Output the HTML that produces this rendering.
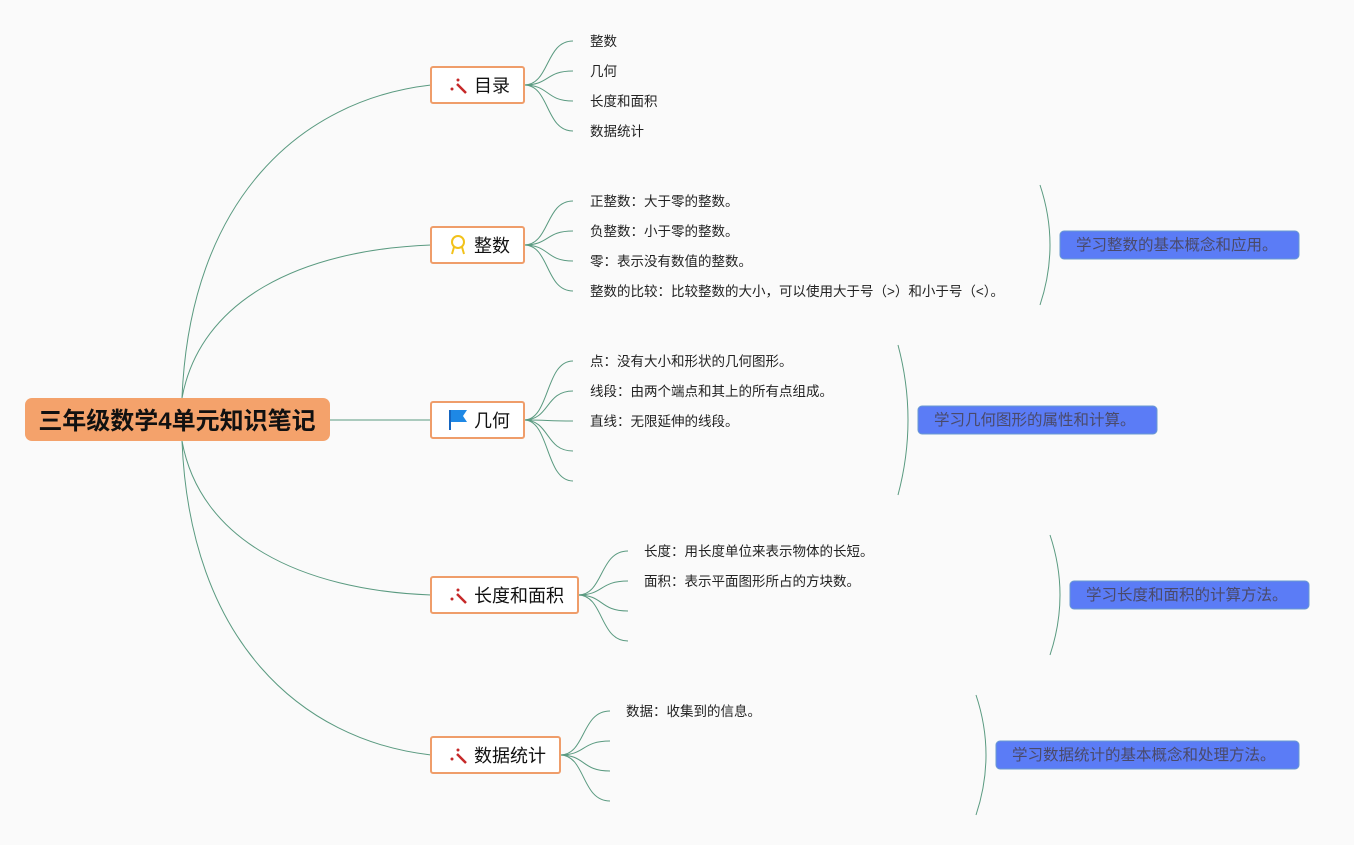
<!DOCTYPE html>
<html><head><meta charset="utf-8"><style>
body{margin:0;background:#fafafa;}
svg text{font-family:"Liberation Sans","Noto Sans CJK SC",sans-serif;}
</style></head><body>
<svg width="1354" height="840" viewBox="0 0 1354 840" xmlns="http://www.w3.org/2000/svg">
<g fill="none" stroke="#5a9a80" stroke-width="1">
<path d="M182,398 C190,200 300,100 431,85"/>
<path d="M182,398 C200,300 300,250 431,245"/>
<path d="M330,420 L431,420"/>
<path d="M182,441 C200,540 300,590 431,595"/>
<path d="M182,441 C190,640 300,740 431,755"/>
<path d="M524,85 C550,85 545,41 573,41"/><path d="M524,85 C550,85 545,71 573,71"/><path d="M524,85 C550,85 545,101 573,101"/><path d="M524,85 C550,85 545,131 573,131"/>
<path d="M524,245 C550,245 545,201 573,201"/><path d="M524,245 C550,245 545,231 573,231"/><path d="M524,245 C550,245 545,261 573,261"/><path d="M524,245 C550,245 545,291 573,291"/>
<path d="M524,420 C550,420 545,361 573,361"/><path d="M524,420 C550,420 545,391 573,391"/><path d="M524,420 C550,420 545,421 573,421"/><path d="M524,420 C550,420 545,451 573,451"/><path d="M524,420 C550,420 545,481 573,481"/>
<path d="M578,595 C604,595 599,551 628,551"/><path d="M578,595 C604,595 599,581 628,581"/><path d="M578,595 C604,595 599,611 628,611"/><path d="M578,595 C604,595 599,641 628,641"/>
<path d="M560,755 C586,755 581,711 610,711"/><path d="M560,755 C586,755 581,741 610,741"/><path d="M560,755 C586,755 581,771 610,771"/><path d="M560,755 C586,755 581,801 610,801"/>
<path d="M1040,185 Q1060,245 1040,305"/>
<path d="M898,345 Q918,420 898,495"/>
<path d="M1050,535 Q1070,595 1050,655"/>
<path d="M976,695 Q996,755 976,815"/>
</g>
<rect x="25" y="398" width="305" height="43" rx="7" fill="#f4a26b"/>
<text x="177" y="429" text-anchor="middle" font-size="24" font-weight="bold" fill="#111">三年级数学4单元知识笔记</text>
<g fill="#fff" stroke="#ef9d6a" stroke-width="2">
<rect x="431" y="67" width="93" height="36" rx="2"/>
<rect x="431" y="227" width="93" height="36" rx="2"/>
<rect x="431" y="402" width="93" height="36" rx="2"/>
<rect x="431" y="577" width="147" height="36" rx="2"/>
<rect x="431" y="737" width="129" height="36" rx="2"/>
</g>
<g font-size="18" fill="#111">
<text x="474" y="92">目录</text><text x="474" y="252">整数</text><text x="474" y="427">几何</text><text x="474" y="602">长度和面积</text><text x="474" y="762">数据统计</text>
</g>
<g fill="#c62828">
<circle cx="452" cy="89" r="1.5"/><circle cx="458" cy="80" r="1.5"/><circle cx="452" cy="599" r="1.5"/><circle cx="458" cy="590" r="1.5"/><circle cx="452" cy="759" r="1.5"/><circle cx="458" cy="750" r="1.5"/>
</g>
<g stroke="#c62828" stroke-width="2.5"><line x1="457" y1="84" x2="466" y2="93"/><line x1="457" y1="594" x2="466" y2="603"/><line x1="457" y1="754" x2="466" y2="763"/></g>
<circle cx="458" cy="242" r="6" fill="none" stroke="#f2c21b" stroke-width="2"/><path d="M454,247 L452,254 M462,247 L464,254" stroke="#f2c21b" stroke-width="2"/>
<rect x="449" y="410" width="2" height="20" fill="#1565c0"/><path d="M451,410 L467,410 L463,416 L467,422 L451,422Z" fill="#1e88e5"/>
<g font-size="13.5" fill="#222">
<text x="590" y="46">整数</text><text x="590" y="76">几何</text><text x="590" y="106">长度和面积</text><text x="590" y="136">数据统计</text>
<text x="590" y="206">正整数：大于零的整数。</text><text x="590" y="236">负整数：小于零的整数。</text><text x="590" y="266">零：表示没有数值的整数。</text><text x="590" y="296">整数的比较：比较整数的大小，可以使用大于号（&gt;）和小于号（&lt;）。</text>
<text x="590" y="366">点：没有大小和形状的几何图形。</text><text x="590" y="396">线段：由两个端点和其上的所有点组成。</text><text x="590" y="426">直线：无限延伸的线段。</text>
<text x="644" y="556">长度：用长度单位来表示物体的长短。</text><text x="644" y="586">面积：表示平面图形所占的方块数。</text>
<text x="626" y="716">数据：收集到的信息。</text>
</g>
<g fill="#5b7cf6" stroke="#6a9ad0" stroke-width="1">
<rect x="1060" y="231" width="239" height="28" rx="4"/>
<rect x="918" y="406" width="239" height="28" rx="4"/>
<rect x="1070" y="581" width="239" height="28" rx="4"/>
<rect x="996" y="741" width="303" height="28" rx="4"/>
</g>
<g font-size="15.5" fill="#4a4a6a">
<text x="1076" y="250">学习整数的基本概念和应用。</text>
<text x="934" y="425">学习几何图形的属性和计算。</text>
<text x="1086" y="600">学习长度和面积的计算方法。</text>
<text x="1012" y="760">学习数据统计的基本概念和处理方法。</text>
</g>
</svg>
</body></html>
